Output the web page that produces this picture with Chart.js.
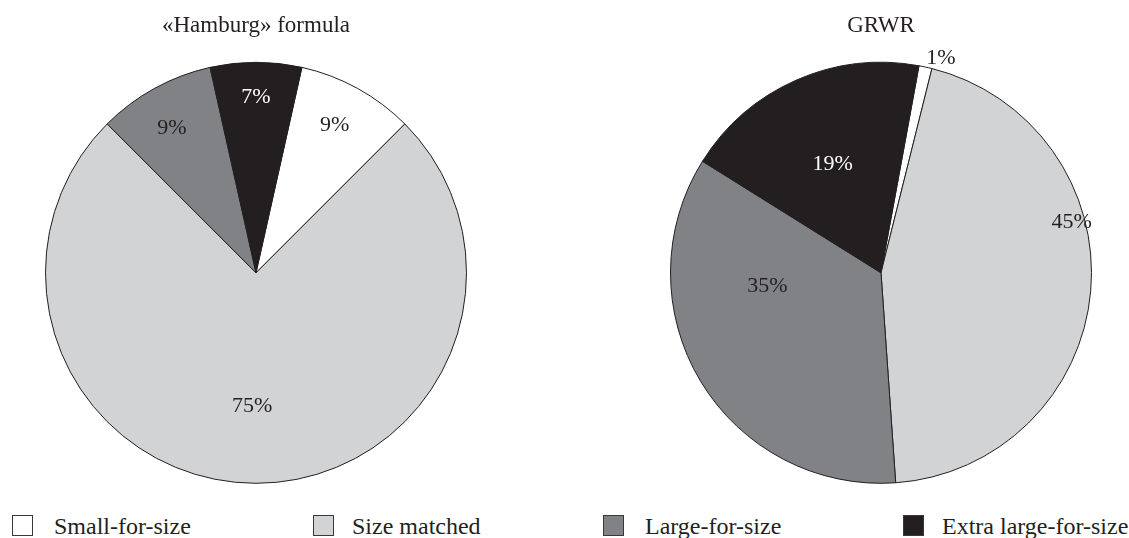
<!DOCTYPE html>
<html>
<head>
<meta charset="utf-8">
<script src="https://cdn.jsdelivr.net/npm/chart.js@4/dist/chart.umd.min.js"></script>
<style>
  html, body { margin: 0; padding: 0; background: #fff; }
  body { width: 1129px; height: 538px; position: relative; overflow: hidden;
         font-family: "Liberation Serif", "DejaVu Serif", serif; color: #231f20; }
  canvas { position: absolute; top: 0; }
  #cHamburg { left: 0; }
  #cGrwr { left: 560px; }
  .lg { position: absolute; top: 514px; height: 24px; line-height: 24px; font-size: 24px; white-space: nowrap; }
  .lg i { position: absolute; top: 1px; width: 19px; height: 19px; border: 1.3px solid #3a3738; }
  .lg span { position: absolute; top: 0; }
</style>
</head>
<body>
<canvas id="cHamburg" width="560" height="500"></canvas>
<canvas id="cGrwr" width="569" height="500"></canvas>
<div id="legend"></div>
<script>
// Graft size categories
const categories = ['Small-for-size', 'Size matched', 'Large-for-size', 'Extra large-for-size'];
const sliceColors = ['#ffffff', '#d1d3d4', '#808285', '#231f20'];

// Share of grafts (%) per category under each estimation method
const hamburgValues = [9, 75, 9, 7];
const grwrValues = [1, 45, 35, 19];

const chartTitles = ['«Hamburg» formula', 'GRWR'];

// Label placement: angular shift from slice middle (deg) and radius fraction
const hamburgLabelPlace = [[-1, 0.80], [1.7, 0.63], [-1.2, 0.80], [0, 0.84]];
const grwrLabelPlace = [[3.3, 1.064], [-20.2, 0.938], [25, 0.543], [0, 0.568]];

const ink = '#231f20';
const serif = '"Liberation Serif", "DejaVu Serif", serif';

const pctLabels = {
  id: 'pctLabels',
  afterDatasetsDraw(chart, args, opts) {
    const ctx = chart.ctx;
    const meta = chart.getDatasetMeta(0);
    const values = chart.data.datasets[0].data;
    ctx.save();
    ctx.font = '22px ' + serif;
    ctx.textAlign = 'center';
    ctx.textBaseline = 'middle';
    meta.data.forEach((arc, i) => {
      const p = arc.getProps(['x', 'y', 'startAngle', 'endAngle', 'outerRadius'], true);
      const [shift, frac] = opts.place[i];
      const a = (p.startAngle + p.endAngle) / 2 + shift * Math.PI / 180;
      const r = p.outerRadius * frac;
      ctx.fillStyle = i === 3 ? '#ffffff' : ink;
      ctx.fillText(values[i] + '%', p.x + Math.cos(a) * r, p.y + Math.sin(a) * r + 1);
    });
    ctx.restore();
  }
};

function makePie(id, title, values, rotation, padLeft, padRight, place) {
  return new Chart(document.getElementById(id), {
    type: 'pie',
    data: {
      labels: categories,
      datasets: [{
        data: values,
        backgroundColor: sliceColors,
        borderColor: ink,
        borderWidth: 1
      }]
    },
    options: {
      responsive: false,
      animation: false,
      rotation: rotation,
      layout: { padding: { left: padLeft, right: padRight, top: 0, bottom: 16 } },
      plugins: {
        legend: { display: false },
        tooltip: { enabled: false },
        title: {
          display: true,
          text: title,
          color: ink,
          font: { family: serif, size: 23, weight: 'normal', lineHeight: 1.2 },
          padding: { top: 12, bottom: 22 }
        },
        pctLabels: { place: place }
      }
    },
    plugins: [pctLabels]
  });
}

// Both pies start the first slice so that the last one straddles / sits left of 12 o'clock
makePie('cHamburg', chartTitles[0], hamburgValues, hamburgValues[3] * 3.6 / 2, 45, 93, hamburgLabelPlace);
makePie('cGrwr', chartTitles[1], grwrValues, 10.4, 110, 37, grwrLabelPlace);

// Shared legend row
const legendBoxX = [12, 313, 603, 903];
const legendTextX = [54, 352, 645, 942];
const legend = document.getElementById('legend');
categories.forEach((name, i) => {
  const item = document.createElement('div');
  item.className = 'lg';
  item.style.left = legendBoxX[i] + 'px';
  const box = document.createElement('i');
  box.style.left = '0px';
  box.style.background = sliceColors[i];
  const txt = document.createElement('span');
  txt.style.left = (legendTextX[i] - legendBoxX[i]) + 'px';
  txt.textContent = name;
  item.appendChild(box);
  item.appendChild(txt);
  legend.appendChild(item);
});
</script>
</body>
</html>
